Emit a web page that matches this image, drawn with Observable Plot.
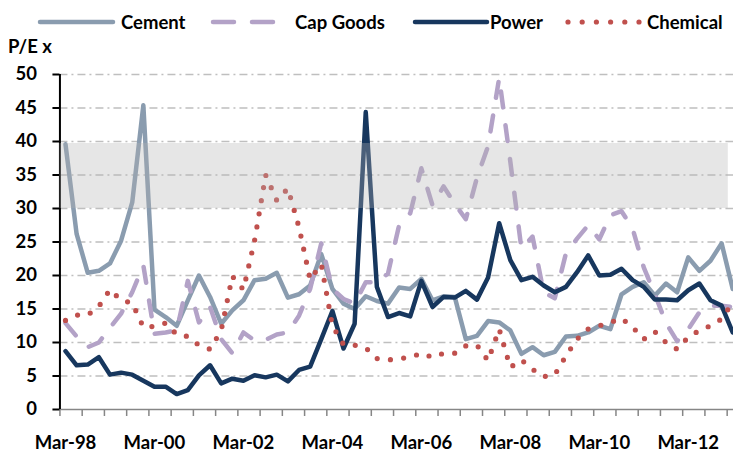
<!DOCTYPE html>
<html><head><meta charset="utf-8">
<script src="https://cdn.jsdelivr.net/npm/d3@7"></script>
<script src="https://cdn.jsdelivr.net/npm/@observablehq/plot@0.6"></script>
<style>
body{margin:0;background:#fff;}
#wrap{width:733px;height:453px;overflow:hidden;font-family:Lato,"Open Sans",sans-serif;}
#legend{display:block;}
</style></head><body>
<div id="wrap"><svg id="legend" width="733" height="60"></svg><div id="chart"></div></div>
<script>
// Quarterly P/E, Mar-98 .. Mar-13 (61 quarters)
const tickLabels = ["Mar-98","Mar-00","Mar-02","Mar-04","Mar-06","Mar-08","Mar-10","Mar-12"];
const yTicks = [0,5,10,15,20,25,30,35,40,45,50];
const seriesNames = ["Cement","Cap Goods","Power","Chemical"];
const cement = [39.6,26.2,20.4,20.7,21.8,25.2,30.9,45.4,14.9,13.8,12.5,16.3,20.0,16.8,12.8,14.8,16.3,19.3,19.5,20.4,16.7,17.2,18.5,23.2,18.0,15.8,15.0,16.9,16.2,15.8,18.2,18.0,19.5,16.3,16.9,16.8,10.5,11.0,13.2,13.0,11.8,8.3,9.3,8.1,8.6,10.9,11.0,11.5,12.5,12.0,17.2,18.3,19.0,17.0,18.8,17.5,22.7,20.7,22.2,24.8,18.0];
const capGoods = [12.9,10.9,9.3,10.0,12.2,14.3,17.5,21.5,11.3,11.5,11.8,19.2,13.0,15.3,10.5,8.4,11.5,10.3,10.4,11.2,11.5,14.0,18.0,24.8,18.0,16.5,15.8,19.0,19.0,20.3,27.5,29.3,36.0,30.5,33.3,30.7,28.4,34.6,39.3,49.5,37.0,24.0,25.8,17.5,16.6,23.3,25.5,27.5,25.4,29.0,29.6,27.0,21.2,17.2,12.9,10.2,12.0,14.5,15.5,15.5,15.3];
const power = [8.7,6.6,6.7,7.8,5.2,5.5,5.2,4.3,3.4,3.4,2.3,2.9,5.1,6.6,3.9,4.6,4.3,5.1,4.8,5.2,4.2,5.9,6.4,10.5,14.7,9.1,12.8,44.4,18.3,13.8,14.4,13.9,19.2,15.3,16.8,16.7,17.7,16.4,19.7,27.8,22.3,19.3,19.8,18.5,17.5,18.3,20.5,23.0,20.0,20.1,21.0,19.3,18.3,16.4,16.4,16.3,17.8,18.8,16.3,15.5,11.5];
const chemical = [13.3,14.1,14.1,15.4,17.9,16.3,15.9,12.3,12.4,12.9,11.2,10.9,9.6,9.0,11.8,19.9,17.9,25.2,35.0,31.2,33.0,27.2,19.4,21.7,12.5,9.7,9.6,9.2,7.6,7.4,7.6,7.8,8.4,7.8,8.4,8.4,9.5,9.6,7.3,12.0,6.3,7.4,6.0,4.9,5.2,8.0,10.5,12.0,12.5,13.0,13.6,12.3,10.5,11.6,10.0,9.0,10.8,11.8,12.5,13.5,16.0];
const band = [{lo:30, hi:39.7}];

const styles = [
  {color:"#8A9CAF", width:4.5, dash:null, cap:"round"},
  {color:"#B3A2C7", width:4.5, dash:"16,18", cap:"round"},
  {color:"#17375E", width:4.5, dash:null, cap:"round"},
  {color:"#C0504D", width:5.2, dash:"0,13.3", cap:"round"}
];
const seriesValues = [cement, capGoods, power, chemical];

const n = cement.length;
const boundaries = d3.range(-0.5, n, 2);
const labelPos = tickLabels.map((_, k) => k * 8);
const font = "Lato, 'Open Sans', sans-serif";

// Legend
const lg = d3.select("#legend");
const legendLayout = [[40,113,121],[213,277,295],[415,487,490],[568,640,647]];
seriesNames.forEach((name, k) => {
  const s = styles[k], L = legendLayout[k];
  lg.append("line").attr("x1", L[0]).attr("x2", L[1]).attr("y1", 22).attr("y2", 22)
    .attr("stroke", s.color).attr("stroke-width", s.width).attr("stroke-linecap", s.cap)
    .attr("stroke-dasharray", k === 1 ? "21,18" : (k === 3 ? "0,14.2" : null));
  lg.append("text").attr("x", L[2]).attr("y", 29).text(name)
    .attr("font-family", font).attr("font-weight", "bold").attr("font-size", 18.5).attr("fill", "#000");
});
lg.append("text").attr("x", 8).attr("y", 53).text("P/E x")
  .attr("font-family", font).attr("font-weight", "bold").attr("font-size", 18.5).attr("fill", "#000");

const lineMarks = seriesValues.map((vals, k) => Plot.lineY(vals, {
  x: (d, i) => i, stroke: styles[k].color, strokeWidth: styles[k].width,
  strokeDasharray: styles[k].dash, strokeLinecap: styles[k].cap, strokeLinejoin: "round"
}));

const chart = Plot.plot({
  width: 733, height: 393,
  marginTop: 14, marginBottom: 44, marginLeft: 59.44, marginRight: 0,
  x: {type: "linear", domain: [-0.5, 60.07], label: null},
  y: {domain: [0, 50], label: null},
  style: {fontFamily: font, fontSize: "18.5px", fontWeight: "bold", color: "#000", background: "transparent"},
  marks: [
    Plot.gridY(yTicks.filter(d => d > 0), {stroke: "#BFBFBF", strokeOpacity: 1, strokeWidth: 1.6, strokeDasharray: "8,4,2,4"}),
    Plot.ruleY([0], {stroke: "#868686", strokeWidth: 1.5}),
    Plot.axisX(boundaries, {tickSize: 7, tickFormat: () => "", stroke: "#868686", strokeWidth: 1.5}),
    Plot.axisX(labelPos, {tickSize: 0, tickPadding: 26, tickFormat: d => tickLabels[d / 8], fontSize: 18.5, fontWeight: "bold"}),
    Plot.axisY(yTicks, {tickSize: 7, tickPadding: 16, stroke: "#000", strokeWidth: 2, fontSize: 18.5, fontWeight: "bold"}),
    Plot.ruleX([-0.5], {stroke: "#000", strokeWidth: 2}),
    ...lineMarks,
    Plot.rect(band, {x1: () => -0.5, x2: () => 59.6, y1: "lo", y2: "hi", fill: "#B3B3B3", fillOpacity: 0.33})
  ]
});
document.getElementById("chart").appendChild(chart);
</script>
</body></html>
